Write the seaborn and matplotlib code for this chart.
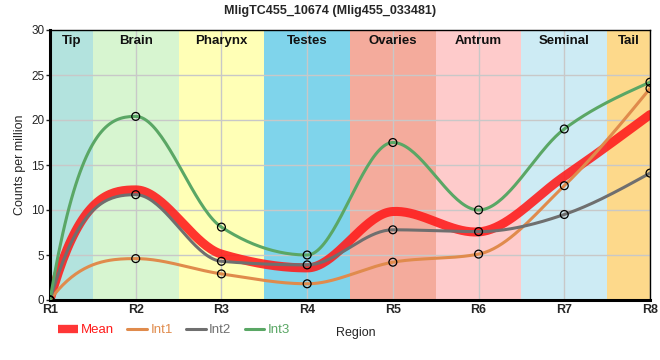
import numpy as np
import pandas as pd
import seaborn as sns
import matplotlib.pyplot as plt
from matplotlib.lines import Line2D

# values
regions = ["R1", "R2", "R3", "R4", "R5", "R6", "R7", "R8"]
int1 = [0, 4.6, 2.9, 1.8, 4.2, 5.1, 12.7, 23.5]
int2 = [0, 11.7, 4.3, 3.9, 7.8, 7.6, 9.5, 14.1]
int3 = [0, 20.4, 8.1, 5.0, 17.5, 10.0, 19.0, 24.2]

tissues = ["Tip", "Brain", "Pharynx", "Testes", "Ovaries", "Antrum", "Seminal", "Tail"]
tissue_colors = ["#b3e3de", "#d7f5d0", "#ffffb6", "#7fd4eb",
                 "#f4ab9c", "#fecbcb", "#cdebf4", "#fdd98b"]


def smooth_curve(x, y, n=40, start_k=2.8):
    # monotone cubic line through the points (steeper start like the original)
    x = np.asarray(x, float)
    y = np.asarray(y, float)
    h = np.diff(x)
    s = np.diff(y) / h
    t = np.zeros_like(y)
    for i in range(1, len(y) - 1):
        s0, s1 = s[i - 1], s[i]
        p = (s0 * h[i] + s1 * h[i - 1]) / (h[i - 1] + h[i])
        t[i] = (np.sign(s0) + np.sign(s1)) * min(abs(s0), abs(s1), 0.5 * abs(p))
    t[0] = min(start_k * s[0], 3 * s[0] - t[1]) if s[0] > 0 else (3 * s[0] - t[1]) / 2
    t[-1] = (3 * s[-1] - t[-2]) / 2
    xs, ys = [], []
    for i in range(len(h)):
        u = np.linspace(0, 1, n, endpoint=(i == len(h) - 1))
        h00 = 2 * u**3 - 3 * u**2 + 1
        h10 = u**3 - 2 * u**2 + u
        h01 = -2 * u**3 + 3 * u**2
        h11 = u**3 - u**2
        xs.append(x[i] + u * h[i])
        ys.append(h00 * y[i] + h10 * h[i] * t[i] + h01 * y[i + 1] + h11 * h[i] * t[i + 1])
    return np.concatenate(xs), np.concatenate(ys)


sns.set_theme(style="white")
plt.rcParams["font.family"] = ["Liberation Sans", "DejaVu Sans"]

fig = plt.figure(figsize=(6.6, 3.6), dpi=100)
ax = fig.add_axes([50 / 660, 60 / 360, 600 / 660, 270 / 360])

xpos = np.arange(len(regions))

# tissue bands
for i, (name, col) in enumerate(zip(tissues, tissue_colors)):
    lo = max(i - 0.5, 0)
    hi = min(i + 0.5, len(regions) - 1)
    ax.axvspan(lo, hi, color=col, zorder=0, lw=0)
    ax.text((lo + hi) / 2, 29.4, name, ha="center", va="top",
            fontsize=9.5, fontweight="bold", color="#111111", zorder=5)

# grid
for xv in xpos:
    ax.axvline(xv, color="#c8c8c8", lw=1, zorder=1)
for yv in range(5, 30, 5):
    ax.axhline(yv, color="#c8c8c8", lw=1, zorder=1)

series = [
    ("Int1", int1, "#e08b4c"),
    ("Int2", int2, "#6f6f6f"),
    ("Int3", int3, "#5aa765"),
]
mean_color = "#ff1a1a"

curves = []
for label, vals, col in series:
    cx, cy = smooth_curve(xpos, vals)
    curves.append(cy)
    df = pd.DataFrame({"x": cx, "y": cy})
    sns.lineplot(data=df, x="x", y="y", ax=ax, color=col, lw=2.2, zorder=3, sort=False)

# mean line follows the average of the three replicate curves
mean_df = pd.DataFrame({"x": cx, "y": np.mean(curves, axis=0)})
sns.lineplot(data=mean_df, x="x", y="y", ax=ax, color=mean_color, lw=6.5,
             alpha=0.88, zorder=2.5, sort=False)

for label, vals, col in series:
    pts = pd.DataFrame({"x": xpos, "y": vals})
    sns.scatterplot(data=pts, x="x", y="y", ax=ax, s=32, facecolor="none",
                    edgecolor="black", linewidth=0.9, zorder=6)

ax.set_xlim(0, len(regions) - 1)
ax.set_ylim(0, 30)
ax.set_xticks(xpos)
ax.set_xticklabels(regions, fontweight="bold", fontsize=9)
ax.set_yticks(range(0, 31, 5))
ax.tick_params(axis="y", labelsize=8.5, length=3, width=1, left=True, pad=1)
ax.tick_params(axis="x", length=0, pad=3)
ax.set_xlabel("Region", fontsize=9)
ax.xaxis.set_label_coords(0.51, -0.1)
ax.set_ylabel("Counts per million", fontsize=9, labelpad=4)

for side in ["left", "bottom"]:
    ax.spines[side].set_linewidth(2.2)
    ax.spines[side].set_color("black")
for side in ["top", "right"]:
    ax.spines[side].set_linewidth(1)
    ax.spines[side].set_color("black")

fig.text(0.5, 0.985, "MligTC455_10674 (Mlig455_033481)", ha="center", va="top",
         fontsize=9, fontweight="bold")

labels = ["Mean"] + [s[0] for s in series]
colors = [mean_color] + [s[2] for s in series]
handles = [Line2D([0], [0], color=mean_color, lw=6, alpha=0.88, solid_capstyle="butt")]
handles += [Line2D([0], [0], color=s[2], lw=2.2) for s in series]
leg = fig.legend(handles, labels, loc="center left",
                 bbox_to_anchor=(0.07, 0.083), ncol=4, frameon=False,
                 fontsize=9.5, handlelength=1.5, handletextpad=0.25,
                 columnspacing=1.0)
for txt, c in zip(leg.get_texts(), colors):
    txt.set_color(c)

fig.savefig("out.png", dpi=100)
